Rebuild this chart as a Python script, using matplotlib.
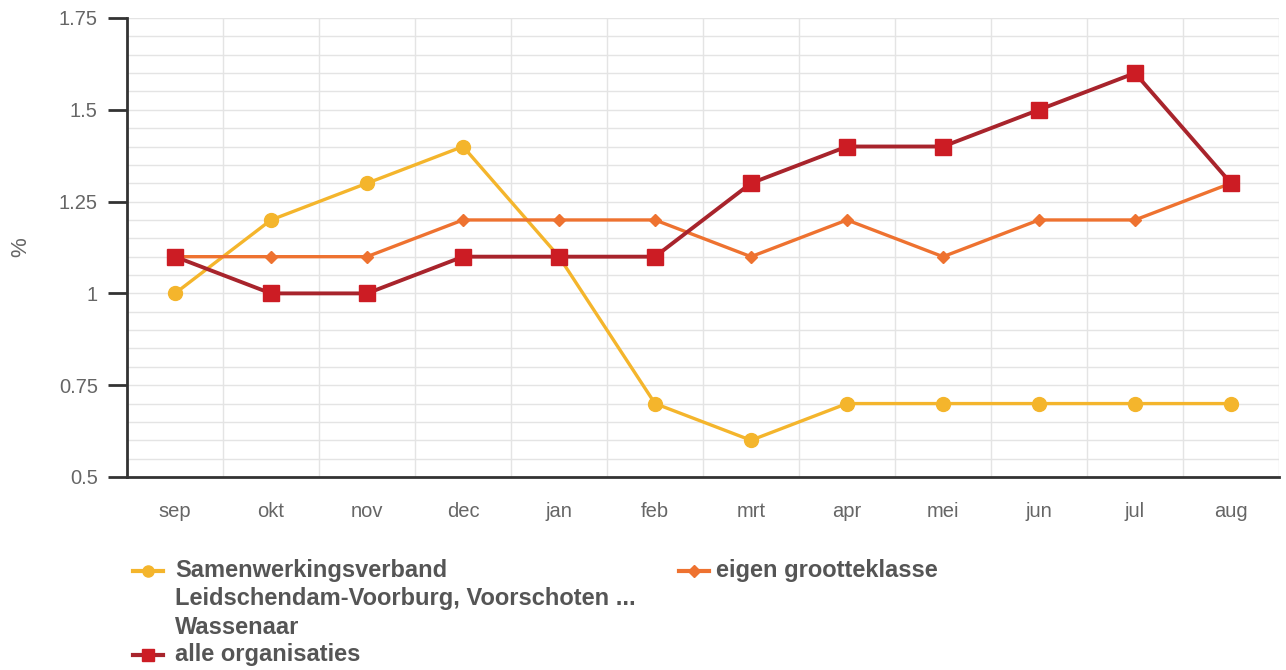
import numpy as np
import matplotlib
matplotlib.use('Agg')
import matplotlib.pyplot as plt
from matplotlib.ticker import MultipleLocator
from matplotlib.lines import Line2D

plt.rcParams['font.family'] = ['Liberation Sans', 'DejaVu Sans']

#Data
months = ['sep','okt','nov','dec','jan','feb','mrt','apr','mei','jun','jul','aug']
samenwerking = [1.0,1.2,1.3,1.4,1.1,0.7,0.6,0.7,0.7,0.7,0.7,0.7]
grootteklasse = [1.1,1.1,1.1,1.2,1.2,1.2,1.1,1.2,1.1,1.2,1.2,1.3]
alle_org = [1.1,1.0,1.0,1.1,1.1,1.1,1.3,1.4,1.4,1.5,1.6,1.3]
yticks = [0.5,0.75,1,1.25,1.5,1.75]
ytick_labels = ['0.5','0.75','1','1.25','1.5','1.75']

label_sv = 'Samenwerkingsverband\nLeidschendam-Voorburg, Voorschoten ...\nWassenaar'
label_gk = 'eigen grootteklasse'
label_ao = 'alle organisaties'

#Colours
c_yellow = '#F4B52C'
c_orange = '#EE7230'
c_red_line = '#A8242C'
c_red_mark = '#CC1C24'
txt_col = '#666666'
leg_col = '#555555'

W, H = 1286, 670
fig = plt.figure(figsize = (W/100, H/100), dpi = 100)
ax = fig.add_axes([127/W, 1-477/H, 1152/W, 459/H])

x = np.arange(len(months))
ax.plot(x, samenwerking, '-o', color = c_yellow, linewidth = 2.4, markersize = 10, zorder = 3)
ax.plot(x, grootteklasse, '-D', color = c_orange, linewidth = 2.4, markersize = 6.5, zorder = 4)
ax.plot(x, alle_org, '-s', color = c_red_line, markerfacecolor = c_red_mark, markeredgecolor = c_red_mark,
        linewidth = 2.8, markersize = 11, zorder = 5)

ax.set_xlim(-0.5, len(months)-0.5)
ax.set_ylim(0.5, 1.75)
ax.set_xticks(x)
ax.set_xticklabels(months)
ax.set_xticks(np.arange(-0.5, len(months)), minor = True)
ax.set_yticks(yticks)
ax.set_yticklabels(ytick_labels)
ax.yaxis.set_minor_locator(MultipleLocator(0.05))

ax.grid(True, which = 'minor', axis = 'both', color = '#E4E4E4', linewidth = 1)
ax.grid(True, which = 'major', axis = 'y', color = '#E4E4E4', linewidth = 1)
ax.set_axisbelow(True)

for s in ['top','right']:
    ax.spines[s].set_visible(False)
for s in ['left','bottom']:
    ax.spines[s].set_linewidth(2)
    ax.spines[s].set_color('#333333')

ax.tick_params(axis = 'y', which = 'major', length = 14, width = 2, color = '#333333',
               labelsize = 14.5, labelcolor = txt_col, pad = 7)
ax.tick_params(axis = 'x', which = 'major', length = 0, labelsize = 14.5, labelcolor = txt_col, pad = 18)
ax.tick_params(which = 'minor', length = 0)

ax.set_ylabel('%', fontsize = 16, color = txt_col, labelpad = 20)

#Legend drawn by hand so the handle sits on the first text line
def legend_item(x_handle, x_text, y_top, label, color, marker, msize, mcolor):
    yf = 1 - y_top/H
    fig.add_artist(Line2D([x_handle/W, (x_handle+30)/W], [yf, yf], color = color, linewidth = 3,
                          transform = fig.transFigure))
    fig.add_artist(Line2D([(x_handle+15)/W], [yf], marker = marker, markersize = msize, color = mcolor,
                          transform = fig.transFigure))
    for i, line in enumerate(label.split('\n')):
        fig.text(x_text/W, 1 - (y_top + 28*i)/H, line, fontsize = 17, fontweight = 'bold',
                 color = leg_col, va = 'center', ha = 'left')

legend_item(133, 175, 571, label_sv, c_yellow, 'o', 8, c_yellow)
legend_item(679, 716, 571, label_gk, c_orange, 'D', 6, c_orange)
legend_item(133, 175, 655, label_ao, c_red_line, 's', 9, c_red_mark)

fig.savefig('out.png', dpi = 100)
